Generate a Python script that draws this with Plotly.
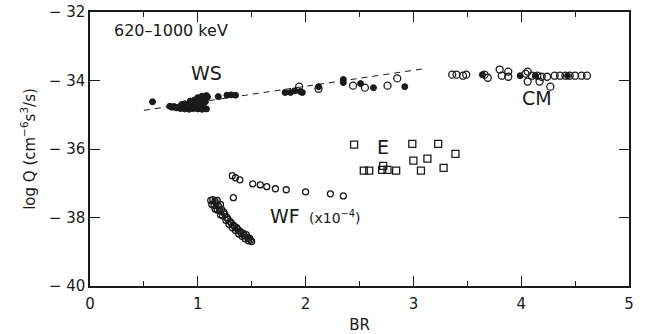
import plotly.graph_objects as go

# WS: filled circles (solid) and open circles
ws_fill_x = [0.58, 0.74, 0.76, 0.78, 0.80, 0.82, 0.84, 0.86, 0.88, 0.90, 0.92, 0.94, 0.96, 0.98,
             1.00, 1.02, 1.04, 1.06, 1.08, 0.85, 0.88, 0.92, 0.95, 0.98, 1.01, 1.04, 1.07,
             0.93, 0.97, 1.00, 1.03, 1.06, 1.09, 1.00, 1.04, 1.08, 1.19, 1.27, 1.31, 1.35,
             1.81, 1.86, 1.90, 1.95, 1.97, 2.12, 2.35, 2.35, 2.51, 2.63, 2.92,
             3.64, 3.99, 4.13, 4.43]
ws_fill_y = [-34.62, -34.75, -34.78, -34.76, -34.80, -34.78, -34.82, -34.79, -34.83, -34.80, -34.84, -34.80, -34.82, -34.79,
             -34.83, -34.80, -34.84, -34.81, -34.83, -34.70, -34.68, -34.72, -34.66, -34.70, -34.64, -34.68, -34.62,
             -34.60, -34.57, -34.55, -34.52, -34.50, -34.48, -34.50, -34.46, -34.44, -34.47, -34.43, -34.42, -34.43,
             -34.35, -34.35, -34.30, -34.32, -34.35, -34.18, -33.97, -34.06, -34.09, -34.21, -34.18,
             -33.83, -33.86, -33.86, -33.86]

ws_open_x = [1.94, 2.12, 2.44, 2.55, 2.76, 2.85, 3.36, 3.40, 3.46, 3.49,
             3.66, 3.69, 3.80, 3.82, 3.88, 3.88, 4.04, 4.06, 4.06, 4.10, 4.15, 4.17, 4.19, 4.24,
             4.27, 4.31, 4.36, 4.41, 4.45, 4.50, 4.56, 4.61]
ws_open_y = [-34.18, -34.24, -34.15, -34.21, -34.15, -33.94, -33.83, -33.83, -33.86, -33.83,
             -33.83, -33.92, -33.68, -33.86, -33.74, -33.89, -33.80, -33.74, -34.03, -33.86, -33.86, -34.03, -33.89, -33.89,
             -34.18, -33.86, -33.86, -33.86, -33.86, -33.86, -33.86, -33.86]

# E: squares
e_x = [2.45, 2.99, 3.23, 3.39, 3.00, 3.13, 2.72, 2.54, 2.59, 2.71, 2.76, 2.84, 3.07, 3.28]
e_y = [-35.87, -35.85, -35.85, -36.14, -36.34, -36.28, -36.49, -36.63, -36.63, -36.61, -36.61, -36.63, -36.63, -36.55]

# WF (scaled by 1e-4): open circles
wf_x = [1.32, 1.35, 1.39, 1.51, 1.58, 1.64, 1.72, 1.82, 2.00, 2.23, 2.35, 1.33,
        1.12, 1.14, 1.16, 1.18, 1.13, 1.15, 1.17, 1.19, 1.21, 1.16, 1.18, 1.20, 1.22, 1.24,
        1.21, 1.23, 1.25, 1.27, 1.26, 1.28, 1.30, 1.29, 1.31, 1.33, 1.32, 1.34, 1.36, 1.35,
        1.37, 1.39, 1.38, 1.40, 1.42, 1.41, 1.43, 1.45, 1.44, 1.46, 1.48, 1.47, 1.49, 1.50]
wf_y = [-36.78, -36.84, -36.90, -37.02, -37.05, -37.10, -37.16, -37.19, -37.25, -37.31, -37.37, -37.42,
        -37.50, -37.48, -37.52, -37.50, -37.62, -37.65, -37.60, -37.66, -37.62, -37.75, -37.78, -37.80, -37.76, -37.84,
        -37.92, -37.95, -37.90, -38.00, -38.08, -38.05, -38.12, -38.20, -38.16, -38.22, -38.30, -38.26, -38.30, -38.38,
        -38.34, -38.40, -38.48, -38.44, -38.46, -38.55, -38.52, -38.50, -38.62, -38.58, -38.60, -38.68, -38.66, -38.70]

# WS linear fit (dashed)
fit_x = [0.50, 3.09]
fit_y = [-34.87, -33.66]

# Axis ticks
x_ticks = [0, 1, 2, 3, 4, 5]
x_ticktext = ["0", "1", "2", "3", "4", "5"]
y_ticks = [-40, -38, -36, -34, -32]
y_ticktext = ["\u2212 40", "\u2212 38", "\u2212 36", "\u2212 34", "\u2212 32"]

FONT = "DejaVu Sans"
INK = "#1a1a1a"

fig = go.Figure()

fig.add_trace(go.Scatter(x=fit_x, y=fit_y, mode="lines",
                         line=dict(color=INK, width=1, dash="6px,5px"), hoverinfo="skip"))
fig.add_trace(go.Scatter(x=ws_fill_x, y=ws_fill_y, mode="markers",
                         marker=dict(symbol="circle", size=6, color=INK,
                                     line=dict(color=INK, width=1))))
fig.add_trace(go.Scatter(x=ws_open_x, y=ws_open_y, mode="markers",
                         marker=dict(symbol="circle-open", size=7, color=INK,
                                     line=dict(color=INK, width=1.3))))
fig.add_trace(go.Scatter(x=e_x, y=e_y, mode="markers",
                         marker=dict(symbol="square-open", size=7, color=INK,
                                     line=dict(color=INK, width=1.3))))
fig.add_trace(go.Scatter(x=wf_x, y=wf_y, mode="markers",
                         marker=dict(symbol="circle-open", size=6, color=INK,
                                     line=dict(color=INK, width=1.3))))

ann = [
    dict(x=0.2, y=-32.55, text="620\u20131000 keV", xanchor="left", font=dict(size=16)),
    dict(x=1.08, y=-33.78, text="WS", xanchor="center", font=dict(size=19)),
    dict(x=4.15, y=-34.52, text="CM", xanchor="center", font=dict(size=19)),
    dict(x=2.72, y=-35.95, text="E", xanchor="center", font=dict(size=19)),
    dict(x=1.65, y=-37.95, text="WF", xanchor="left", font=dict(size=19)),
    dict(x=2.01, y=-37.98, text="(x10<sup>\u22124</sup>)", xanchor="left", font=dict(size=14)),
]
for a in ann:
    a.update(xref="x", yref="y", showarrow=False, yanchor="middle")
    a["font"].update(family=FONT, color=INK)

axis_common = dict(
    showline=True, linecolor=INK, linewidth=1.5, mirror="allticks",
    ticks="inside", ticklen=10, tickwidth=1.2, tickcolor=INK,
    showgrid=False, zeroline=False, automargin=False,
    tickfont=dict(family=FONT, size=15, color=INK),
)

fig.update_layout(
    width=646, height=334,
    margin=dict(l=90, r=17, t=12, b=48),
    paper_bgcolor="white", plot_bgcolor="white",
    showlegend=False,
    annotations=ann,
    xaxis=dict(range=[0, 5], tickmode="array", tickvals=x_ticks, ticktext=x_ticktext,
               ticklabelstandoff=3,
               minor=dict(dtick=0.5, tick0=0, ticklen=5, tickwidth=1.2, tickcolor=INK, ticks="inside"),
               title=dict(text="BR", font=dict(family=FONT, size=15, color=INK), standoff=12),
               **axis_common),
    yaxis=dict(range=[-40, -32], tickmode="array", tickvals=y_ticks, ticktext=y_ticktext,
               title=dict(text="log Q (cm<sup>\u22126</sup>s<sup>3</sup>/s)",
                          font=dict(family=FONT, size=15, color=INK), standoff=10),
               **axis_common),
)

fig.write_html("out.html")
